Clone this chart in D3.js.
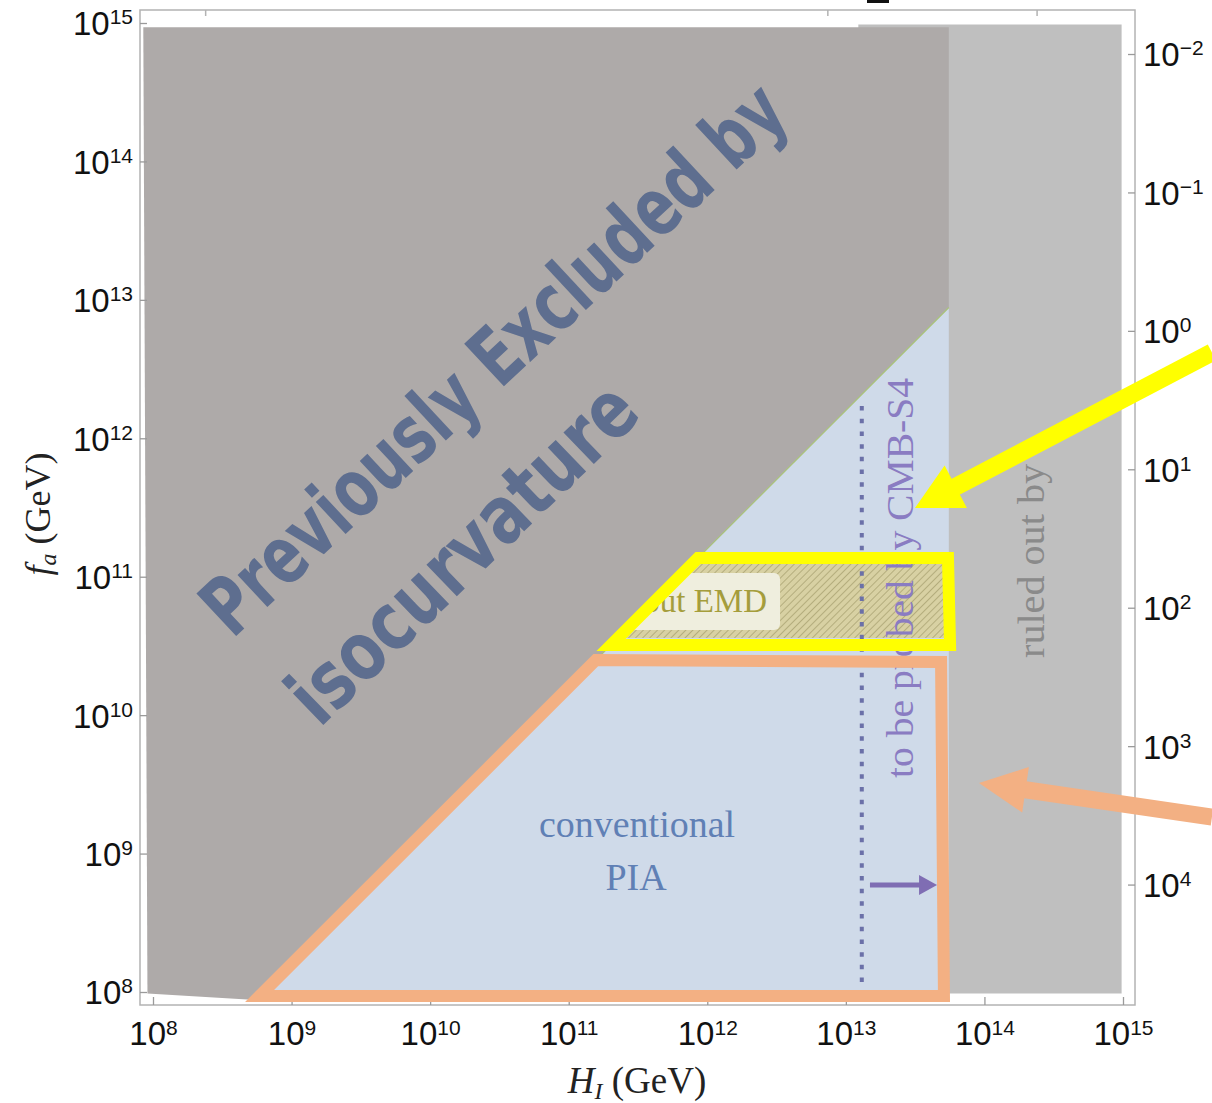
<!DOCTYPE html>
<html>
<head>
<meta charset="utf-8">
<script src="https://cdn.jsdelivr.net/npm/d3@7"></script>
<style>
  body { margin: 0; background: #fff; }
  svg { display: block; }
</style>
</head>
<body>
<div id="chart"></div>
<script>
// canvas
var w = 1212, h = 1103;

// axis decades (log10 of value)
var xDecades = [8, 9, 10, 11, 12, 13, 14, 15];
var yDecades = [8, 9, 10, 11, 12, 13, 14, 15];
var rightDecades = [-2, -1, 0, 1, 2, 3, 4];
var topTicks = [8.38, 12.87, 14.38];
var rightOffset = 12.776;   // log10(right) = rightOffset - log10(f_a)

// regions, as [log10 H_I, log10 f_a]
var ruledOut    = [[13.09, 14.99], [14.99, 14.99], [14.99, 7.99], [13.09, 7.99]];
var isoExcluded = [[7.93, 14.97], [13.743, 14.97], [13.743, 12.945], [8.74, 7.942], [7.96, 7.99]];
var piaAllowed  = [[13.743, 12.945], [13.743, 7.96], [8.758, 7.96]];
var diagonal    = [[13.743, 12.945], [8.758, 7.96]];
var emdHatch    = [[11.897, 11.099], [13.743, 11.099], [13.743, 10.557], [11.355, 10.557]];
var emdBox      = [[11.2, 11.027], [12.525, 11.027], [12.525, 10.615], [11.2, 10.615]];
var cmbS4Line   = [[13.115, 7.98], [13.115, 12.29]];
var cmbS4Arrow  = [[13.174, 8.773], [13.658, 8.773]];

// annotations
var yellowBox   = [[11.933, 11.135], [13.737, 11.135], [13.752, 10.507], [11.305, 10.507]];
var orangeBox   = [[11.196, 10.398], [13.687, 10.384], [13.708, 7.971], [8.769, 7.971]];
var yellowArrow = [[15.642, 12.62], [13.499, 11.496]];
var orangeArrow = [[15.642, 9.264], [13.961, 9.510]];

// labels: [log10 H_I, log10 f_a]
var convLabel  = [11.493, 9.120];
var piaLabel   = [11.486, 8.737];
var emdLabel   = [12.431, 10.745];
var cmbLabel   = [13.485, 9.546];
var ruledLabel = [14.43, 10.413];
var isoLine1   = [10.591, 12.43];
var isoLine2   = [10.37, 11.03];

var x = d3.scaleLog().domain([1e8, 1e15]).range([153, 1123]);
var y = d3.scaleLog().domain([1e8, 1e15]).range([992, 23]);
var yR = d3.scaleLog()
    .domain([Math.pow(10, rightOffset - 8), Math.pow(10, rightOffset - 15)])
    .range([992, 23]);
var pad = 13;
var frameBox = {left: 153 - pad, right: 1123 + 12, top: 23 - pad, bottom: 992 + pad};

function px(d) { return x(Math.pow(10, d[0])); }
function py(d) { return y(Math.pow(10, d[1])); }
function pts(arr) { return arr.map(function(d) { return [px(d), py(d)]; }); }

var lineGen = d3.line();
function closedPath(arr) { return lineGen(pts(arr)) + "Z"; }

var svg = d3.select("#chart").append("svg")
    .attr("width", w).attr("height", h);

// hatch pattern for EMD region
var defs = svg.append("defs");
var pat = defs.append("pattern")
    .attr("id", "hatch")
    .attr("patternUnits", "userSpaceOnUse")
    .attr("width", 5).attr("height", 5)
    .attr("patternTransform", "rotate(45)");
pat.append("rect").attr("width", 5).attr("height", 5).attr("fill", "#d8d1a3");
pat.append("line").attr("x1", 0).attr("y1", 0).attr("x2", 0).attr("y2", 5)
    .attr("stroke", "#a59e6c").attr("stroke-width", 1.4);

// regions
svg.append("path").attr("d", closedPath(ruledOut)).attr("fill", "#bfbfbf");
svg.append("path").attr("d", closedPath(piaAllowed)).attr("fill", "#cfdae9");
svg.append("path").attr("d", closedPath(emdHatch)).attr("fill", "url(#hatch)");
var bx = pts(emdBox);
svg.append("rect")
    .attr("x", bx[0][0]).attr("y", bx[0][1])
    .attr("width", bx[1][0] - bx[0][0]).attr("height", bx[2][1] - bx[0][1])
    .attr("rx", 6).attr("fill", "#efeede");
svg.append("text")
    .attr("x", px(emdLabel)).attr("y", py(emdLabel))
    .attr("text-anchor", "end")
    .style("font-family", "'Liberation Serif', 'Times New Roman', serif")
    .style("font-size", "33px").attr("fill", "#a59d3c")
    .text("without EMD");
svg.append("path").attr("d", closedPath(isoExcluded)).attr("fill", "#aeaaa9");
svg.append("path").attr("d", lineGen(pts(diagonal)))
    .attr("fill", "none").attr("stroke", "#a9c27a").attr("stroke-width", 1.2);

// CMB-S4 reach
svg.append("path").attr("d", lineGen(pts(cmbS4Line)))
    .attr("stroke", "#6b70a8").attr("stroke-width", 4)
    .attr("stroke-dasharray", "4.5 8.2").attr("fill", "none");

function arrow(g, a, b, color, shaftW, headL, headW) {
    var dx = b[0] - a[0], dy = b[1] - a[1];
    var len = Math.sqrt(dx * dx + dy * dy);
    var ux = dx / len, uy = dy / len;
    var bxp = b[0] - ux * headL, byp = b[1] - uy * headL;
    g.append("line")
        .attr("x1", a[0]).attr("y1", a[1])
        .attr("x2", bxp + ux * 2).attr("y2", byp + uy * 2)
        .attr("stroke", color).attr("stroke-width", shaftW);
    g.append("path")
        .attr("d", lineGen([[b[0], b[1]],
                         [bxp - uy * headW, byp + ux * headW],
                         [bxp + uy * headW, byp - ux * headW]]) + "Z")
        .attr("fill", color);
}

var ca = pts(cmbS4Arrow);
arrow(svg, ca[0], ca[1], "#7f6db3", 5, 18, 10);

// region labels
var serif = "'Liberation Serif', 'Times New Roman', serif";
svg.append("text")
    .attr("x", px(convLabel)).attr("y", py(convLabel))
    .attr("text-anchor", "middle")
    .style("font-family", serif).style("font-size", "37px")
    .attr("textLength", 196).attr("lengthAdjust", "spacingAndGlyphs")
    .attr("fill", "#6080b5").text("conventional");
svg.append("text")
    .attr("x", px(piaLabel)).attr("y", py(piaLabel))
    .attr("text-anchor", "middle")
    .style("font-family", serif).style("font-size", "38px")
    .attr("fill", "#6080b5").text("PIA");

svg.append("text")
    .attr("transform", "translate(" + px(cmbLabel) + "," + py(cmbLabel) + ") rotate(-90)")
    .style("font-family", serif).style("font-size", "38px")
    .attr("textLength", 400).attr("lengthAdjust", "spacingAndGlyphs")
    .attr("fill", "#8a7cc2").text("to be probed by CMB-S4");

svg.append("text")
    .attr("transform", "translate(" + px(ruledLabel) + "," + py(ruledLabel) + ") rotate(-90)")
    .style("font-family", serif).style("font-size", "38px")
    .attr("textLength", 194).attr("lengthAdjust", "spacingAndGlyphs")
    .attr("fill", "#8a8a8a").text("ruled out by");

// frame
svg.append("rect")
    .attr("x", frameBox.left).attr("y", frameBox.top)
    .attr("width", frameBox.right - frameBox.left).attr("height", frameBox.bottom - frameBox.top)
    .attr("fill", "none").attr("stroke", "#b3b3b3").attr("stroke-width", 1.5);

svg.selectAll(".topTick").data(topTicks).enter().append("line")
    .attr("x1", function(d) { return x(Math.pow(10, d)); })
    .attr("x2", function(d) { return x(Math.pow(10, d)); })
    .attr("y1", frameBox.top).attr("y2", frameBox.top + 6)
    .attr("stroke", "#b3b3b3").attr("stroke-width", 1.5);

svg.append("rect").attr("x", 867).attr("y", 0).attr("width", 22).attr("height", 3).attr("fill", "#111");

function sup(sel) {
    sel.each(function(d) {
        var t = d3.select(this).text("");
        t.append("tspan").text("10");
        t.append("tspan").attr("dy", "-0.52em").style("font-size", "21px")
            .text(String(Math.round(Math.log10(d))).replace("-", "\u2212"));
    });
}

var tickFont = "'Liberation Sans', Arial, Helvetica, sans-serif";

var gl = svg.append("g").attr("transform", "translate(" + frameBox.left + ",0)")
    .call(d3.axisLeft(y).tickValues(yDecades.map(function(k) { return Math.pow(10, k); }))
        .tickSizeInner(-7).tickSizeOuter(0).tickPadding(7));
var gb = svg.append("g").attr("transform", "translate(0," + frameBox.bottom + ")")
    .call(d3.axisBottom(x).tickValues(xDecades.map(function(k) { return Math.pow(10, k); }))
        .tickSizeInner(-8).tickSizeOuter(0).tickPadding(17));
var gr = svg.append("g").attr("transform", "translate(" + frameBox.right + ",0)")
    .call(d3.axisRight(yR).tickValues(rightDecades.map(function(k) { return Math.pow(10, k); }))
        .tickSizeInner(-7).tickSizeOuter(0).tickPadding(8));

[gl, gb, gr].forEach(function(g) {
    g.select(".domain").remove();
    g.selectAll(".tick line").attr("stroke", "#9a9a9a").attr("stroke-width", 1.3);
    g.selectAll(".tick text").attr("fill", "#111")
        .style("font-family", tickFont).style("font-size", "33px")
        .call(sup);
});
gl.selectAll(".tick text").attr("dy", "0.36em");
gr.selectAll(".tick text").attr("dy", "0.36em");

// axis titles
var xt = svg.append("text")
    .attr("x", 637).attr("y", 1093).attr("text-anchor", "middle")
    .style("font-family", serif).style("font-size", "37px").attr("fill", "#222");
xt.append("tspan").style("font-style", "italic").text("H");
xt.append("tspan").attr("dy", "0.25em").style("font-size", "24px").style("font-style", "italic").text("I");
xt.append("tspan").attr("dy", "-0.17em").text(" (GeV)");

var yt = svg.append("text")
    .attr("transform", "translate(50,514) rotate(-90)").attr("text-anchor", "middle")
    .style("font-family", serif).style("font-size", "36px").attr("fill", "#222");
yt.append("tspan").style("font-style", "italic").text("f");
yt.append("tspan").attr("dy", "0.25em").style("font-size", "24px").style("font-style", "italic").text("a");
yt.append("tspan").attr("dy", "-0.17em").text(" (GeV)");

// annotation outlines and arrows
svg.append("path").attr("d", closedPath(orangeBox))
    .attr("fill", "none").attr("stroke", "#f3b083").attr("stroke-width", 12)
    .attr("stroke-linejoin", "miter");
svg.append("path").attr("d", closedPath(yellowBox))
    .attr("fill", "none").attr("stroke", "#ffff00").attr("stroke-width", 12)
    .attr("stroke-linejoin", "miter");

var ya = pts(yellowArrow);
arrow(svg, ya[0], ya[1], "#ffff00", 18, 46, 24);
var oa = pts(orangeArrow);
arrow(svg, oa[0], oa[1], "#f3b083", 17, 47, 23);

// big overlay text
var bigFont = "'DejaVu Sans Condensed', 'Liberation Sans Narrow', 'Roboto Condensed', 'DejaVu Sans', sans-serif";
svg.append("text")
    .attr("transform", "translate(" + px(isoLine1) + "," + py(isoLine1) + ") rotate(-43)")
    .attr("text-anchor", "middle")
    .style("font-family", bigFont).style("font-weight", "bold").style("font-size", "80px")
    .attr("textLength", 765).attr("lengthAdjust", "spacingAndGlyphs")
    .attr("fill", "#5e6e8f").text("Previously Excluded by");
svg.append("text")
    .attr("transform", "translate(" + px(isoLine2) + "," + py(isoLine2) + ") rotate(-44)")
    .attr("text-anchor", "middle")
    .style("font-family", bigFont).style("font-weight", "bold").style("font-size", "80px")
    .attr("textLength", 450).attr("lengthAdjust", "spacingAndGlyphs")
    .attr("fill", "#5e6e8f").text("isocurvature");
</script>
</body>
</html>
